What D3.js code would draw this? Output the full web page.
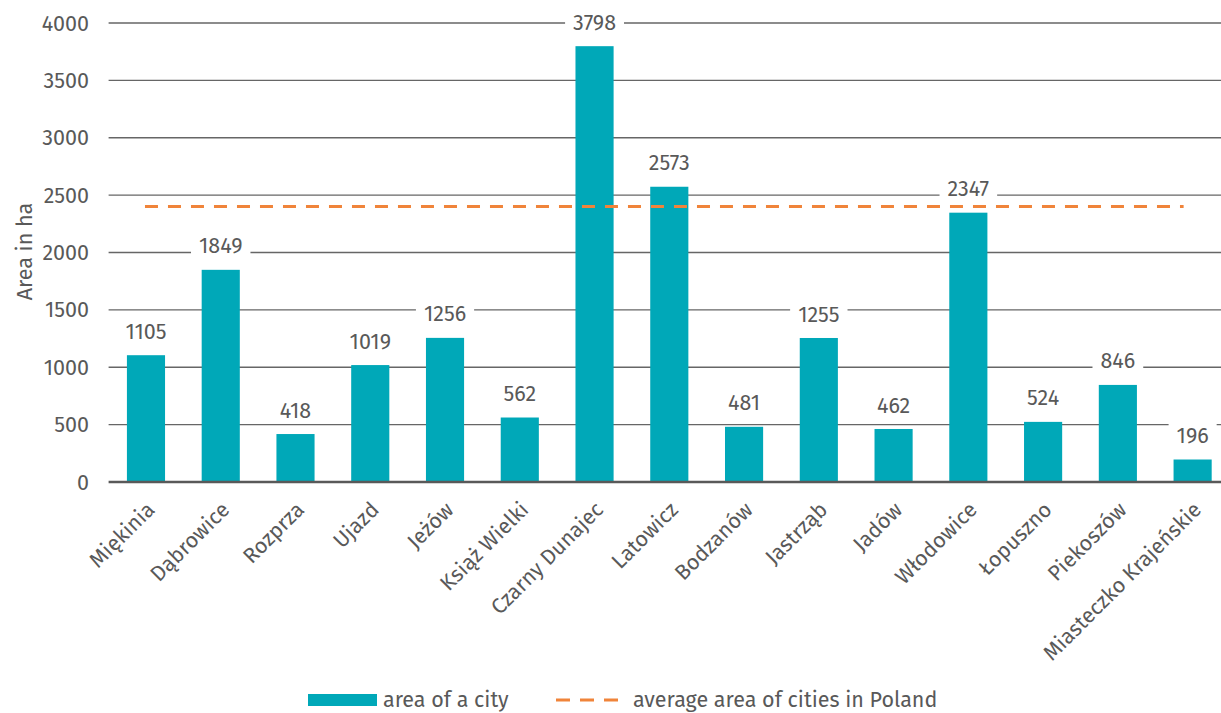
<!DOCTYPE html>
<html>
<head>
<meta charset="utf-8">
<script src="https://cdn.jsdelivr.net/npm/d3@7"></script>
<style>
  body { margin: 0; background: #fff; }
  text { font-family: "Fira Sans", sans-serif; fill: #595959; font-size: 21.5px; }
</style>
</head>
<body>
<div id="chart"></div>
<script>
var cities = ["Miękinia", "Dąbrowice", "Rozprza", "Ujazd", "Jeżów", "Książ Wielki", "Czarny Dunajec",
  "Latowicz", "Bodzanów", "Jastrząb", "Jadów", "Włodowice", "Łopuszno", "Piekoszów", "Miasteczko Krajeńskie"];
var areas = [1105, 1849, 418, 1019, 1256, 562, 3798, 2573, 481, 1255, 462, 2347, 524, 846, 196];
var averageArea = 2400;
var yTicks = [0, 500, 1000, 1500, 2000, 2500, 3000, 3500, 4000];

var W = 1221, H = 713;
var margin = {top: 23, right: -9, bottom: 231, left: 108.6};
var width = W - margin.left - margin.right;
var height = H - margin.top - margin.bottom;

var teal = "#00A8B8", orange = "#F0843A";

var svg = d3.select("#chart").append("svg")
  .attr("width", W).attr("height", H)
  .append("g")
  .attr("transform", "translate(" + margin.left + "," + margin.top + ")");

var x = d3.scaleBand().domain(cities).range([0, width]).paddingInner(0.49).paddingOuter(0.245);
var y = d3.scaleLinear().domain([0, 4000]).range([height, 0]);
var half = x.bandwidth() / 2;

// gridlines
svg.append("g").selectAll("line").data(yTicks.slice(1)).enter().append("line")
  .attr("x1", 0).attr("x2", width)
  .attr("y1", function(d) { return y(d); }).attr("y2", function(d) { return y(d); })
  .attr("stroke", "#666").attr("stroke-width", 1.3);

// y tick labels
svg.append("g").selectAll("text").data(yTicks).enter().append("text")
  .attr("x", -19.5).attr("y", function(d) { return y(d); })
  .attr("dy", "0.35em").attr("text-anchor", "end")
  .text(function(d) { return d; });

// bars
svg.append("g").selectAll("rect").data(areas).enter().append("rect")
  .attr("x", function(d, i) { return x(cities[i]); })
  .attr("y", function(d) { return y(d); })
  .attr("width", x.bandwidth())
  .attr("height", function(d) { return height - y(d); })
  .attr("fill", teal);

// baseline
svg.append("line").attr("x1", 0).attr("x2", width).attr("y1", height).attr("y2", height)
  .attr("stroke", "#595959").attr("stroke-width", 2.5);

// average line
svg.append("line")
  .attr("x1", x(cities[0]) + half - 1)
  .attr("x2", x(cities[cities.length - 1]) + half - 9)
  .attr("y1", y(averageArea)).attr("y2", y(averageArea))
  .attr("stroke", orange).attr("stroke-width", 3)
  .attr("stroke-dasharray", "13,10");

// value labels, white box hides the gridline behind them
var labels = svg.append("g").selectAll("g").data(areas).enter().append("g")
  .attr("transform", function(d, i) {
    return "translate(" + (x(cities[i]) + half) + "," + (y(d) - 24) + ")";
  });
var bg = labels.append("rect").attr("fill", "#fff");
var vt = labels.append("text")
  .attr("text-anchor", "middle").attr("dy", "0.35em")
  .text(function(d) { return d; });
vt.each(function(d, i) {
  var w = this.getComputedTextLength() + 16;
  d3.select(bg.nodes()[i]).attr("x", -w / 2).attr("y", -13).attr("width", w).attr("height", 26);
});

// x labels
svg.append("g").selectAll("text").data(cities).enter().append("text")
  .attr("transform", function(d) {
    return "translate(" + (x(d) + half + 10) + "," + (height + 29) + ") rotate(-45)";
  })
  .attr("text-anchor", "end")
  .text(function(d) { return d; });

// y axis title
svg.append("text")
  .attr("transform", "translate(" + (32 - margin.left) + "," + (251.5 - margin.top) + ") rotate(-90)")
  .attr("text-anchor", "middle")
  .text("Area in ha");

// legend
var legend = d3.select("svg").append("g");
legend.append("rect").attr("x", 308).attr("y", 694).attr("width", 69).attr("height", 12).attr("fill", teal);
legend.append("text").attr("x", 383).attr("y", 699).attr("dy", "0.35em").text("area of a city");
legend.append("line").attr("x1", 556).attr("x2", 618).attr("y1", 700).attr("y2", 700)
  .attr("stroke", orange).attr("stroke-width", 3).attr("stroke-dasharray", "14,10");
legend.append("text").attr("x", 633).attr("y", 699).attr("dy", "0.35em").text("average area of cities in Poland");
</script>
</body>
</html>
